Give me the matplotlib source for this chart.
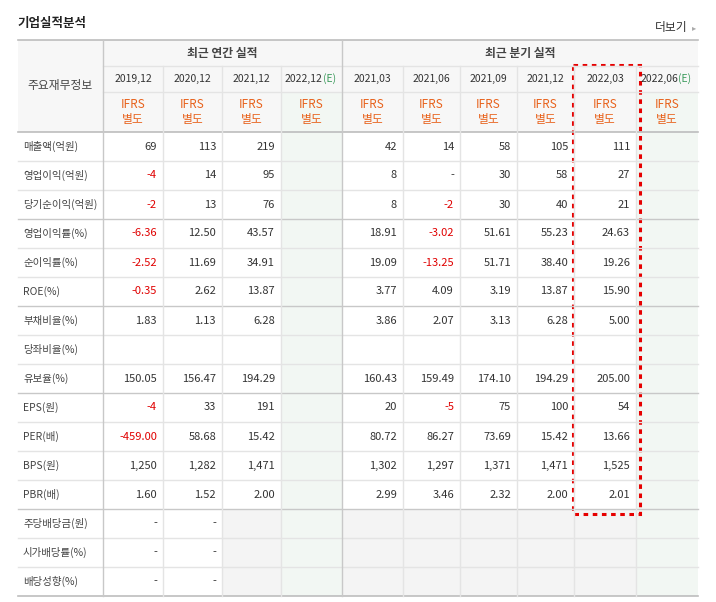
import matplotlib
matplotlib.use("Agg")
import matplotlib.pyplot as plt
from matplotlib.patches import Rectangle

plt.rcParams["font.family"] = "Noto Sans CJK KR"

title = "기업실적분석"
annual_periods = ["2019,12", "2020,12", "2021,12", "2022,12"]
quarter_periods = ["2021,03", "2021,06", "2021,09", "2021,12", "2022,03", "2022,06"]
row_labels = ["매출액(억원)", "영업이익(억원)", "당기순이익(억원)", "영업이익률(%)", "순이익률(%)",
              "ROE(%)", "부채비율(%)", "당좌비율(%)", "유보율(%)", "EPS(원)", "PER(배)",
              "BPS(원)", "PBR(배)", "주당배당금(원)", "시가배당률(%)", "배당성향(%)"]
annual = [
    ["69", "113", "219", ""],
    ["-4", "14", "95", ""],
    ["-2", "13", "76", ""],
    ["-6.36", "12.50", "43.57", ""],
    ["-2.52", "11.69", "34.91", ""],
    ["-0.35", "2.62", "13.87", ""],
    ["1.83", "1.13", "6.28", ""],
    ["", "", "", ""],
    ["150.05", "156.47", "194.29", ""],
    ["-4", "33", "191", ""],
    ["-459.00", "58.68", "15.42", ""],
    ["1,250", "1,282", "1,471", ""],
    ["1.60", "1.52", "2.00", ""],
    ["-", "-", "", ""],
    ["-", "-", "", ""],
    ["-", "-", "", ""],
]
quarterly = [
    ["42", "14", "58", "105", "111", ""],
    ["8", "-", "30", "58", "27", ""],
    ["8", "-2", "30", "40", "21", ""],
    ["18.91", "-3.02", "51.61", "55.23", "24.63", ""],
    ["19.09", "-13.25", "51.71", "38.40", "19.26", ""],
    ["3.77", "4.09", "3.19", "13.87", "15.90", ""],
    ["3.86", "2.07", "3.13", "6.28", "5.00", ""],
    ["", "", "", "", "", ""],
    ["160.43", "159.49", "174.10", "194.29", "205.00", ""],
    ["20", "-5", "75", "100", "54", ""],
    ["80.72", "86.27", "73.69", "15.42", "13.66", ""],
    ["1,302", "1,297", "1,371", "1,471", "1,525", ""],
    ["2.99", "3.46", "2.32", "2.00", "2.01", ""],
    ["", "", "", "", "", ""],
    ["", "", "", "", "", ""],
    ["", "", "", "", "", ""],
]

W, H = 716, 602
fig = plt.figure(figsize=(W / 100, H / 100), dpi=100)
ax = fig.add_axes([0, 0, 1, 1])
ax.set_xlim(0, W)
ax.set_ylim(H, 0)
ax.axis("off")

xs = [18, 103, 163, 222, 281, 342, 403, 460, 517, 574, 636, 698]
y_top, y_h1, y_h2, y_h3 = 40, 66, 92, 132
rh = 29
y_end = y_h3 + rh * len(row_labels)
grid_c = "#e4e4e4"
dark_c = "#c8c8c8"
est_cols = [4, 10]   # column c spans xs[c]..xs[c+1]

# backgrounds
ax.add_patch(Rectangle((xs[0], y_top), xs[-1] - xs[0], y_h3 - y_top, color="#f7f7f7", lw=0))
y_div = y_h3 + rh * 13
ax.add_patch(Rectangle((xs[3], y_div), xs[-1] - xs[3], y_end - y_div, color="#f4f4f4", lw=0))
for c in est_cols:
    ax.add_patch(Rectangle((xs[c], y_h2), xs[c + 1] - xs[c], y_end - y_h2, color="#f2f7f3", lw=0))

# grid lines
for i in range(1, len(row_labels)):
    y = y_h3 + rh * i
    dark = i in (3, 6, 9, 13)
    ax.plot([xs[0], xs[-1]], [y, y], color=dark_c if dark else grid_c, lw=1)
ax.plot([xs[1], xs[-1]], [y_h1, y_h1], color=grid_c, lw=1)
ax.plot([xs[1], xs[-1]], [y_h2, y_h2], color=grid_c, lw=1)
for y in (y_top, y_h3, y_end):
    ax.plot([xs[0], xs[-1]], [y, y], color="#bdbdbd", lw=1.2)
for i, x in enumerate(xs[1:-1], start=1):
    major = i in (1, 5)
    ax.plot([x, x], [y_top if major else y_h1, y_end], color=dark_c if major else grid_c, lw=1)

# titles
ax.text(18, 24, title, fontsize=9, fontweight="bold", color="#222", va="center")
ax.text(688, 28, "더보기", fontsize=8.5, color="#333", va="center", ha="right")
ax.text(694, 28, "▸", fontsize=6, color="#aaa", va="center", ha="center", family="DejaVu Sans")
ax.text((xs[0] + xs[1]) / 2, (y_top + y_h3) / 2, "주요재무정보", fontsize=8.5, color="#444", ha="center", va="center")
ax.text((xs[1] + xs[5]) / 2, (y_top + y_h1) / 2, "최근 연간 실적", fontsize=8.5, fontweight="bold", color="#444", ha="center", va="center")
ax.text((xs[5] + xs[-1]) / 2, (y_top + y_h1) / 2, "최근 분기 실적", fontsize=8.5, fontweight="bold", color="#444", ha="center", va="center")

periods = annual_periods + quarter_periods
for j, p in enumerate(periods):
    c = j + 1
    cx = (xs[c] + xs[c + 1]) / 2
    if c in est_cols:
        ax.text(cx + 11, (y_h1 + y_h2) / 2, p, fontsize=7.5, color="#333", ha="right", va="center")
        ax.text(cx + 11, (y_h1 + y_h2) / 2, "(E)", fontsize=7.5, color="#3a9a5b", ha="left", va="center")
    else:
        ax.text(cx, (y_h1 + y_h2) / 2, p, fontsize=7.5, color="#333", ha="center", va="center")
    ax.text(cx, (y_h2 + y_h3) / 2, "IFRS\n별도", fontsize=8.5, color="#e8621c", ha="center",
            va="center", linespacing=1.1)

for i, lab in enumerate(row_labels):
    yc = y_h3 + rh * (i + 0.5)
    ax.text(xs[0] + 5, yc, lab, fontsize=7.5, color="#444", va="center")
    vals = annual[i] + quarterly[i]
    for j, v in enumerate(vals):
        if not v:
            continue
        color = "#e00000" if v.startswith("-") and v != "-" else "#333"
        ax.text(xs[j + 2] - 6, yc, v, fontsize=8, color=color, ha="right", va="center")

# highlight box
ax.add_patch(Rectangle((573, 65), 67, 449, fill=False, ec="#e60000", lw=2.2, ls=(0, (1.5, 1.5))))

fig.savefig("out.png", dpi=100)
